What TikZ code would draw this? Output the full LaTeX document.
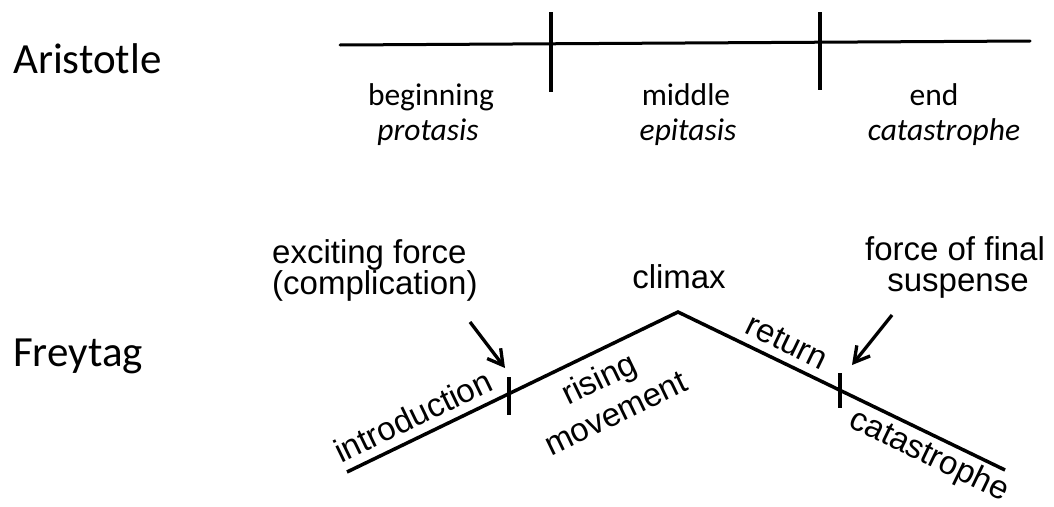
\documentclass[tikz,border=0pt]{standalone}
\usepackage{fontspec}
\newfontfamily\calfont{Carlito}
\newfontfamily\arifont{Liberation Sans}
\usetikzlibrary{arrows.meta}
\tikzset{
  big/.style={font=\calfont\fontsize{43}{50}\selectfont, inner sep=0pt, anchor=base west},
  cal/.style={font=\calfont\fontsize{31.5}{37}\selectfont, inner sep=0pt, anchor=base},
  calit/.style={font=\calfont\itshape\fontsize{31.5}{37}\selectfont, inner sep=0pt, anchor=base},
  ari/.style={font=\arifont\fontsize{33}{31}\selectfont, inner sep=0pt},
  aril/.style={font=\arifont\fontsize{33}{38}\selectfont, inner sep=0pt, align=center},
  axisline/.style={line width=3pt, line cap=round},
  plotline/.style={line width=3.5pt},
  tickline/.style={line width=3.2pt},
  pointer/.style={line width=3.3pt, -{Straight Barb[length=15pt,width=17pt,line width=3.3pt]}},
}
\begin{document}
\begin{tikzpicture}[x=1pt,y=-1pt]
\useasboundingbox[fill=white] (0,0) rectangle (1054,506);
% Aristotle
\node[big] (arist) at (13,73) {Aristotle};
\coordinate (a0) at (340,45);
\coordinate (a1) at (1030,41);
\draw[axisline] (a0) -- (a1);
\coordinate (v1t) at (551,12); \coordinate (v1b) at (551,92);
\coordinate (v2t) at (820,12); \coordinate (v2b) at (820,90);
\draw[tickline] (v1t) -- (v1b);
\draw[tickline] (v2t) -- (v2b);
\node[cal] (beg) at (431,105) {beginning};
\node[calit] (prot) at (428,140) {protasis};
\node[cal] (mid) at (686,105) {middle};
\node[calit] (epit) at (688,140) {epitasis};
\node[cal] (endn) at (934,105) {end};
\node[calit] (cata) at (944,140) {catastrophe};
% Freytag
\node[big] (frey) at (13,366) {Freytag};
\coordinate (s) at (347,472);
\coordinate (c) at (678,312);
\coordinate (e) at (1005,470);
\draw[plotline, line join=miter] (s) -- (c) -- (e);
\coordinate (t1a) at (509,377); \coordinate (t1b) at (509,415);
\coordinate (t2a) at (840,373); \coordinate (t2b) at (840,408);
\draw[tickline] (t1a) -- (t1b);
\draw[tickline] (t2a) -- (t2b);
\node[ari, anchor=base west] (exc1) at (272,263) {exciting force};
\node[ari, anchor=base west] (exc2) at (272,294) {(complication)};
\node[ari, anchor=base] (clim) at (679,288) {climax};
\node[ari, anchor=base] (ff1) at (955,260) {force of final};
\node[ari, anchor=base] (ff2) at (958,291) {suspense};
\coordinate (p1s) at (470,322); \coordinate (p1e) at (505,368);
\coordinate (p2s) at (892,315); \coordinate (p2e) at (852,365);
\draw[pointer] (p1s) -- (p1e);
\draw[pointer] (p2s) -- (p2e);
\node[ari, rotate=25.8] (intro) at (413,416) {introduction};
\node[aril, rotate=25.8] (rise) at (607,395) {rising\\movement};
\node[ari, rotate=-25.8] (ret) at (787,342) {return};
\node[ari, rotate=-25.8] (catf) at (929,456) {catastrophe};
\end{tikzpicture}
\end{document}
